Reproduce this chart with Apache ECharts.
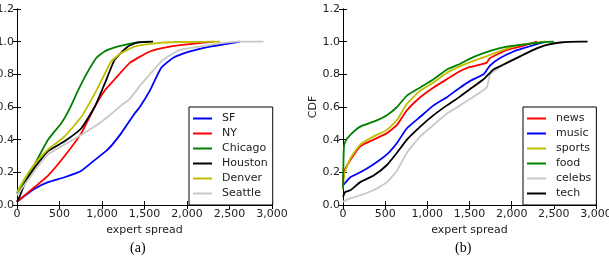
<!DOCTYPE html>
<html>
<head>
<meta charset="utf-8">
<style>
  html, body { margin: 0; padding: 0; background: #fff; }
  #chart { width: 609px; height: 258px; }
</style>
<script src="https://cdn.jsdelivr.net/npm/echarts@6/dist/echarts.min.js"></script>
</head>
<body>
<div id="chart"></div>
<script>
// (a) cities: [expert spread, CDF]
const sf = [[0,0.02],[100,0.06],[208,0.10],[365,0.14],[560,0.17],[757,0.21],[913,0.275],[1070,0.34],[1227,0.44],[1384,0.56],[1445,0.60],[1563,0.70],[1697,0.84],[1835,0.90],[2034,0.94],[2270,0.97],[2505,0.99],[2620,1.0]]
const ny = [[0,0.02],[208,0.11],[365,0.18],[560,0.30],[757,0.44],[913,0.60],[1030,0.70],[1150,0.77],[1327,0.87],[1563,0.94],[1800,0.97],[2034,0.985],[2310,1.0]]
const chicago = [[0,0.07],[100,0.15],[208,0.25],[365,0.40],[520,0.50],[620,0.59],[717,0.70],[815,0.80],[933,0.90],[1030,0.94],[1150,0.965],[1305,0.985],[1420,0.995],[1550,1.0]]
const houston = [[0,0.02],[30,0.05],[90,0.13],[208,0.23],[365,0.33],[560,0.39],[757,0.47],[913,0.60],[1030,0.74],[1150,0.89],[1305,0.97],[1420,0.995],[1600,1.0]]
const denver = [[0,0.08],[100,0.17],[208,0.25],[365,0.34],[560,0.42],[757,0.54],[913,0.68],[1030,0.80],[1110,0.88],[1227,0.93],[1384,0.97],[1620,0.99],[1900,0.998],[2390,1.0]]
const seattle = [[0,0.06],[208,0.21],[365,0.31],[560,0.37],[757,0.43],[913,0.48],[1070,0.54],[1227,0.61],[1327,0.65],[1462,0.74],[1563,0.80],[1720,0.89],[1916,0.95],[2150,0.97],[2390,0.99],[2600,1.0],[2900,1.0]]

// (b) topics
const news = [[0,0.12],[10,0.20],[87,0.275],[205,0.36],[363,0.40],[521,0.44],[640,0.49],[758,0.58],[916,0.66],[1074,0.72],[1232,0.77],[1390,0.82],[1509,0.845],[1700,0.87],[1745,0.90],[1943,0.95],[2100,0.97],[2300,1.0]]
const music = [[0,0.12],[87,0.17],[205,0.20],[363,0.25],[521,0.31],[640,0.38],[758,0.47],[916,0.54],[1074,0.61],[1232,0.66],[1390,0.72],[1509,0.76],[1666,0.80],[1745,0.855],[1864,0.90],[2022,0.94],[2140,0.96],[2400,1.0]]
const sports = [[0,0.10],[15,0.19],[87,0.285],[205,0.37],[363,0.42],[521,0.46],[640,0.52],[758,0.62],[916,0.70],[1074,0.75],[1232,0.81],[1390,0.85],[1509,0.875],[1700,0.91],[1900,0.95],[2100,0.98],[2400,1.0]]
const food = [[0,0.10],[10,0.35],[28,0.39],[87,0.43],[205,0.48],[363,0.51],[521,0.55],[640,0.60],[758,0.67],[916,0.72],[1074,0.77],[1232,0.83],[1390,0.865],[1544,0.905],[1745,0.944],[1943,0.97],[2180,0.985],[2338,0.995],[2500,1.0]]
const celebs = [[0,0.02],[87,0.04],[205,0.06],[363,0.09],[521,0.14],[640,0.21],[758,0.32],[916,0.42],[1074,0.49],[1232,0.56],[1390,0.61],[1509,0.65],[1705,0.72],[1745,0.80],[1943,0.87],[2100,0.91],[2300,0.96],[2500,0.99],[2700,1.0]]
const tech = [[0,0.05],[28,0.08],[87,0.09],[205,0.14],[363,0.18],[521,0.245],[640,0.32],[758,0.40],[916,0.48],[1074,0.55],[1232,0.61],[1390,0.665],[1509,0.71],[1666,0.77],[1784,0.83],[1943,0.87],[2100,0.91],[2259,0.95],[2417,0.98],[2575,0.995],[2812,1.0],[2900,1.0]]

const cityNames = ['SF', 'NY', 'Chicago', 'Houston', 'Denver', 'Seattle']
const topicNames = ['news', 'music', 'sports', 'food', 'celebs', 'tech']

const FONT = 'DejaVu Sans'
const labelStyle = { fontFamily: FONT, fontSize: 11, color: '#222' }

// x axis with ticks on bottom (labels) and a bare top copy
function xAxes(grid) {
    return [
        {
            gridIndex: grid, type: 'value', min: 0, max: 3000, interval: 500,
            name: 'expert spread', nameLocation: 'middle', nameGap: 19,
            nameTextStyle: labelStyle,
            axisLine: { lineStyle: { color: '#000', width: 1 } },
            axisTick: { inside: true, length: 4, lineStyle: { color: '#000' } },
            axisLabel: Object.assign({ margin: 4 }, labelStyle),
            splitLine: { show: false }
        },
        {
            gridIndex: grid, type: 'value', min: 0, max: 3000, interval: 500, position: 'top',
            axisLine: { lineStyle: { color: '#000', width: 1 } },
            axisTick: { inside: true, length: 4, lineStyle: { color: '#000' } },
            axisLabel: { show: false }, splitLine: { show: false }
        }
    ]
}

function yAxes(grid, name) {
    return [
        {
            gridIndex: grid, type: 'value', min: 0, max: 1.2, interval: 0.2,
            name: name, nameLocation: 'middle', nameGap: 20,
            nameTextStyle: labelStyle,
            axisLine: { show: true, lineStyle: { color: '#000', width: 1 } },
            axisTick: { show: true, inside: true, length: 4, lineStyle: { color: '#000' } },
            axisLabel: Object.assign({ margin: 3, formatter: v => v.toFixed(1) }, labelStyle),
            splitLine: { show: false }
        },
        {
            gridIndex: grid, type: 'value', min: 0, max: 1.2, interval: 0.2, position: 'right',
            axisLine: { show: true, lineStyle: { color: '#000', width: 1 } },
            axisTick: { show: true, inside: true, length: 4, lineStyle: { color: '#000' } },
            axisLabel: { show: false }, splitLine: { show: false }
        }
    ]
}

function line(name, data, color, idx) {
    return {
        name: name, type: 'line', data: data,
        xAxisIndex: idx, yAxisIndex: idx,
        showSymbol: false, symbol: 'none', animation: false,
        smooth: 0.15,
        lineStyle: { color: color, width: 1.8 },
        itemStyle: { color: color }
    }
}

function legend(left, names) {
    return {
        left: left, top: 107, orient: 'vertical',
        data: names, icon: 'rect', itemWidth: 19, itemHeight: 2, itemGap: 2,
        padding: [5, 5, 5, 4],
        borderColor: '#000', borderWidth: 1, backgroundColor: '#fff',
        textStyle: { fontFamily: FONT, fontSize: 11, color: '#222', lineHeight: 13, padding: [0, 0, 0, 5] },
        selectedMode: false
    }
}

const myChart = echarts.init(document.getElementById('chart'), null, { renderer: 'canvas' })

const option = {
    animation: false,
    backgroundColor: '#fff',
    title: [
        { text: '(a)', left: 125, top: 236, textStyle: { fontFamily: 'Liberation Serif', fontSize: 14, fontWeight: 'normal', color: '#000' } },
        { text: '(b)', left: 450, top: 236, textStyle: { fontFamily: 'Liberation Serif', fontSize: 14, fontWeight: 'normal', color: '#000' } }
    ],
    grid: [
        { left: 17, right: 337, top: 9, bottom: 53, outerBoundsMode: 'none' },
        { left: 343, right: 13, top: 9, bottom: 53, outerBoundsMode: 'none' }
    ],
    xAxis: [].concat(xAxes(0), xAxes(1)),
    yAxis: [].concat(yAxes(0, ''), yAxes(1, 'CDF')),
    legend: [legend(189, cityNames), legend(523, topicNames)],
    series: [
        line('SF', sf, '#0000ff', 0),
        line('NY', ny, '#ff0000', 0),
        line('Chicago', chicago, '#008000', 0),
        line('Houston', houston, '#000000', 0),
        line('Denver', denver, '#bfbf00', 0),
        line('Seattle', seattle, '#c8c8c8', 0),
        line('news', news, '#ff0000', 2),
        line('music', music, '#0000ff', 2),
        line('sports', sports, '#bfbf00', 2),
        line('food', food, '#008000', 2),
        line('celebs', celebs, '#c8c8c8', 2),
        line('tech', tech, '#000000', 2)
    ]
}

myChart.setOption(option)
</script>
</body>
</html>
